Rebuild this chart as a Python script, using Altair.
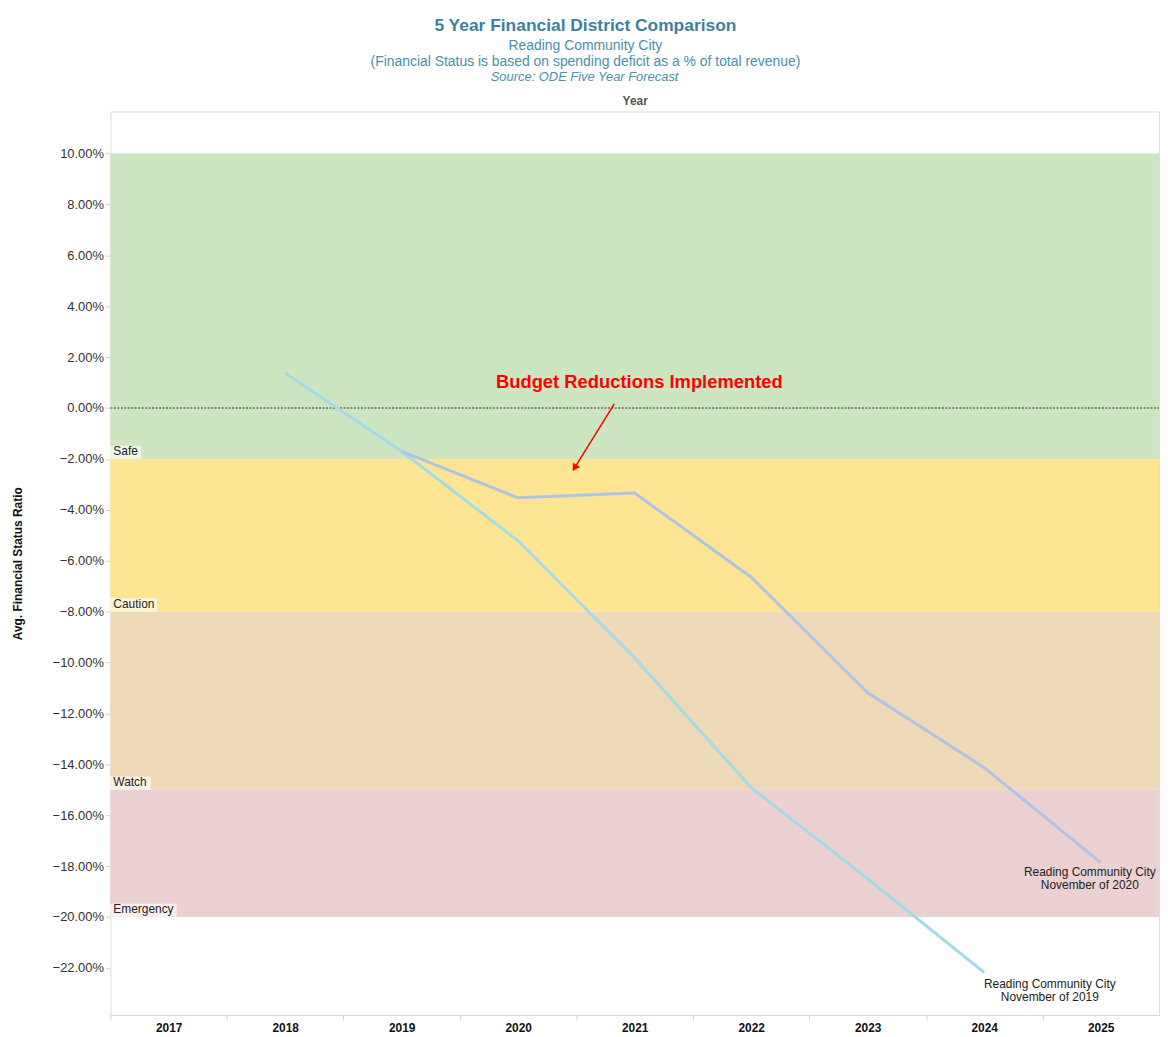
import altair as alt
import pandas as pd

FONT = "Liberation Sans"

# ---- data ----
years_2019 = [2018, 2019, 2020, 2021, 2022, 2023, 2024]
vals_2019 = [0.0137, -0.0170, -0.0522, -0.0982, -0.1492, -0.1850, -0.2218]
years_2020 = [2019, 2020, 2021, 2022, 2023, 2024, 2025]
vals_2020 = [-0.0170, -0.0353, -0.0334, -0.0665, -0.1119, -0.1413, -0.1786]
series_names = ["November of 2019", "November of 2020"]
series_colors = ["#a3dbe6", "#aec3e6"]

band_names = ["Safe", "Caution", "Watch", "Emergency"]
band_top = [0.10, -0.02, -0.08, -0.15]
band_bottom = [-0.02, -0.08, -0.15, -0.20]
band_colors = ["#cde5c0", "#fee594", "#eed9b8", "#ebd1d2"]
band_label_width = [0.265, 0.40, 0.35, 0.57]   # label box width, in year units

year_labels = [2017, 2018, 2019, 2020, 2021, 2022, 2023, 2024, 2025]
y_ticks = [0.10, 0.08, 0.06, 0.04, 0.02, 0.0, -0.02, -0.04, -0.06, -0.08,
           -0.10, -0.12, -0.14, -0.16, -0.18, -0.20, -0.22]

X_MIN, X_MAX = 2016.5, 2025.5
Y_MIN, Y_MAX = -0.2385, 0.1165
TOTAL_W, TOTAL_H = 1159, 1029
PLOT_W = 1055

lines_df = pd.DataFrame(
    {"year": years_2019 + years_2020,
     "value": vals_2019 + vals_2020,
     "series": [series_names[0]] * len(years_2019) + [series_names[1]] * len(years_2020)}
)
bands_df = pd.DataFrame({"name": band_names, "top": band_top, "bottom": band_bottom,
                         "color": band_colors, "x0": X_MIN, "x1": X_MAX,
                         "lx1": [X_MIN + w for w in band_label_width],
                         "ly1": [b + 0.0052 for b in band_bottom]})
end_df = pd.DataFrame({"year": [years_2019[-1], years_2020[-1]],
                       "value": [vals_2019[-1], vals_2020[-1]],
                       "label": ["Reading Community City\n" + series_names[0],
                                 "Reading Community City\n" + series_names[1]]})
zero_df = pd.DataFrame({"y": [0.0], "x0": [X_MIN], "x1": [X_MAX]})
annot_df = pd.DataFrame({"x": [2021.04], "y": [0.0102], "t": ["Budget Reductions Implemented"]})
src_df = pd.DataFrame({"x": [2020.57], "t": ["Source: ODE Five Year Forecast"]})
arrow_df = pd.DataFrame({"x": [2020.825], "y": [0.0016], "x2": [2020.484], "y2": [-0.02356]})

xscale = alt.Scale(domain=[X_MIN, X_MAX], nice=False, zero=False)
yscale = alt.Scale(domain=[Y_MIN, Y_MAX], nice=False, zero=False)

x_axis = alt.Axis(
    orient="bottom", title=None,
    values=[X_MIN + i for i in range(9)],
    labelExpr="toString(datum.value + 0.5)",
    labelOffset=PLOT_W / 9 / 2, labelFlush=False, labelOverlap=False,
    labelFont=FONT, labelFontSize=12, labelFontWeight="bold", labelColor="#111",
    tickColor="#cfcfcf", tickSize=5, domainColor="#d6d6d6", grid=False, labelPadding=3,
)
y_axis = alt.Axis(
    title="Avg. Financial Status Ratio", values=y_ticks, format=".2%",
    labelFont=FONT, labelFontSize=13, labelColor="#333",
    titleFont=FONT, titleFontSize=12, titleFontWeight="bold", titleColor="#111",
    titlePadding=28, tickColor="#cfcfcf", tickSize=5, domain=False, grid=False,
    labelPadding=2,
)


def X(field):
    return alt.X(field, scale=xscale, axis=None)


bands = alt.Chart(bands_df).mark_rect().encode(
    x=alt.X("x0:Q", scale=xscale, axis=x_axis), x2="x1:Q",
    y=alt.Y("top:Q", scale=yscale, axis=y_axis), y2="bottom:Q",
    color=alt.Color("color:N", scale=None),
)

top_axis = alt.Chart(zero_df).mark_point(opacity=0, size=1).encode(
    x=alt.X("x0:Q", scale=xscale,
            axis=alt.Axis(orient="top", title="Year", labels=False, ticks=False, domain=False,
                          grid=False, titleFont=FONT, titleFontSize=12, titleFontWeight="bold",
                          titleColor="#555", titlePadding=4)),
    y=alt.Y("y:Q", scale=yscale),
)

zero = alt.Chart(zero_df).mark_rule(color="#333", strokeDash=[2, 1.5], strokeWidth=1).encode(
    x=X("x0:Q"), x2="x1:Q", y="y:Q")

label_box = alt.Chart(bands_df).mark_rect(color="white", opacity=0.65).encode(
    x=X("x0:Q"), x2="lx1:Q", y="bottom:Q", y2="ly1:Q")

label_text = alt.Chart(bands_df).mark_text(
    align="left", baseline="bottom", dx=3, dy=-1, font=FONT, fontSize=12, color="#222"
).encode(x=X("x0:Q"), y="bottom:Q", text="name:N")

lines = alt.Chart(lines_df).mark_line(strokeWidth=3).encode(
    x=X("year:Q"), y="value:Q",
    color=alt.Color("series:N", scale=alt.Scale(domain=series_names, range=series_colors), legend=None),
)

end_2019 = alt.Chart(end_df.iloc[[0]]).mark_text(
    align="center", baseline="top", dx=66, dy=7, font=FONT, fontSize=12, color="#222",
    lineHeight=13, lineBreak="\n"
).encode(x=X("year:Q"), y="value:Q", text="label:N")
end_2020 = alt.Chart(end_df.iloc[[1]]).mark_text(
    align="center", baseline="top", dx=-11, dy=5, font=FONT, fontSize=12, color="#222",
    lineHeight=13, lineBreak="\n"
).encode(x=X("year:Q"), y="value:Q", text="label:N")

annot = alt.Chart(annot_df).mark_text(
    font=FONT, fontSize=18.5, fontWeight="bold", color="#ff0000"
).encode(x=X("x:Q"), y="y:Q", text="t:N")

arrow_line = alt.Chart(arrow_df).mark_rule(color="#ff0000", strokeWidth=1.5).encode(
    x=X("x:Q"), y="y:Q", x2="x2:Q", y2="y2:Q")
arrow_head = alt.Chart(arrow_df).mark_point(
    shape="triangle-up", filled=True, color="#ff0000", size=70, angle=212, opacity=1
).encode(x=X("x2:Q"), y="y2:Q")

source = alt.Chart(src_df).mark_text(
    font=FONT, fontSize=13, fontStyle="italic", color="#4a8fab", dy=-35
).encode(x=X("x:Q"), y=alt.value(0), text="t:N")

chart = alt.layer(
    bands, top_axis, zero, label_box, label_text, lines, end_2019, end_2020,
    annot, arrow_line, arrow_head, source
).resolve_axis(x="independent").properties(
    width=TOTAL_W, height=TOTAL_H,
    autosize=alt.AutoSizeParams(type="fit", contains="padding"),
    padding={"left": 3, "top": 6, "right": 0, "bottom": 0},
    title=alt.TitleParams(
        text="5 Year Financial District Comparison",
        subtitle=["Reading Community City",
                  "(Financial Status is based on spending deficit as a % of total revenue)"],
        font=FONT, fontSize=17.5, fontWeight="bold", color="#3a819d",
        subtitleFont=FONT, subtitleFontSize=14, subtitleColor="#4a8fab",
        subtitleLineHeight=16, subtitlePadding=4, anchor="middle", offset=2,
        frame="bounds",
    ),
).configure_view(stroke="#dcdcdc", strokeWidth=1).configure(background="white")

chart.save("out.html", embed_options={"renderer": "svg", "actions": False})
